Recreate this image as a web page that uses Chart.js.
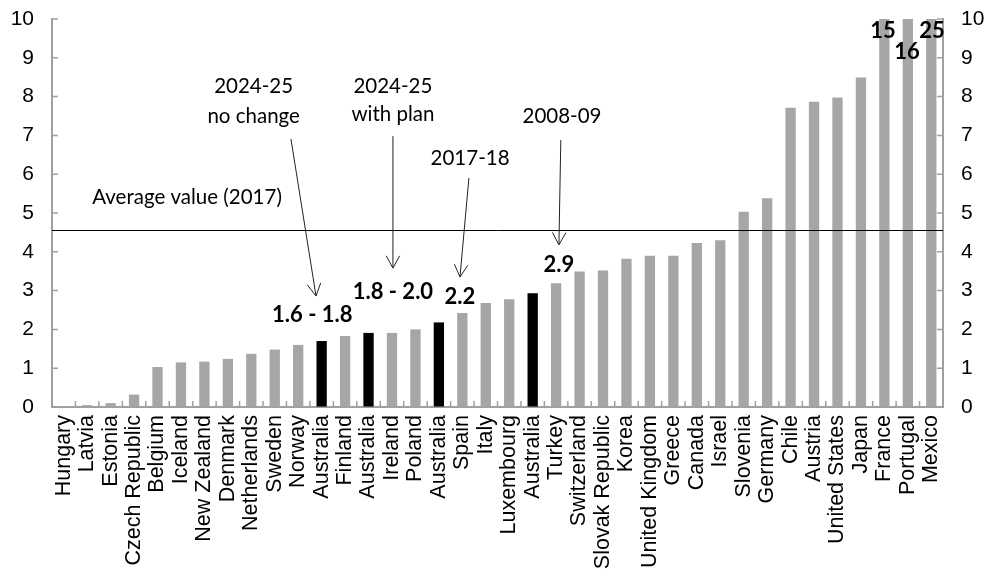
<!DOCTYPE html>
<html>
<head>
<meta charset="utf-8">
<script src="https://cdn.jsdelivr.net/npm/chart.js@4"></script>
<style>
  html, body { margin: 0; padding: 0; background: #fff; }
  #wrap { width: 989px; height: 581px; }
</style>
</head>
<body>
<div id="wrap"><canvas id="myChart" width="989" height="581"></canvas></div>
<script>
// countries, sorted by value
const countries = ['Hungary', 'Latvia', 'Estonia', 'Czech Republic', 'Belgium', 'Iceland', 'New Zealand',
  'Denmark', 'Netherlands', 'Sweden', 'Norway', 'Australia', 'Finland', 'Australia', 'Ireland', 'Poland',
  'Australia', 'Spain', 'Italy', 'Luxembourg', 'Australia', 'Turkey', 'Switzerland', 'Slovak Republic',
  'Korea', 'United Kingdom', 'Greece', 'Canada', 'Israel', 'Slovenia', 'Germany', 'Chile', 'Austria',
  'United States', 'Japan', 'France', 'Portugal', 'Mexico'];
const values = [0.0, 0.05, 0.1, 0.32, 1.03, 1.15, 1.17, 1.24, 1.37, 1.48, 1.6, 1.7, 1.83, 1.91, 1.91, 2.0,
  2.18, 2.42, 2.68, 2.78, 2.93, 3.19, 3.49, 3.52, 3.82, 3.9, 3.9, 4.23, 4.3, 5.03, 5.38, 7.71, 7.87,
  7.98, 8.49, 15, 16, 25];
const highlighted = [11, 13, 16, 20]; // the Australia bars
const averageValue = 4.55;
const yTicks = [0, 1, 2, 3, 4, 5, 6, 7, 8, 9, 10];

// annotation texts, placed in data units (category index, value)
const notes = [
  { text: 'Average value (2017)', x: 5.26, y: 5.41, bold: false },
  { text: '2024-25', x: 8.1, y: 8.27, bold: false },
  { text: 'no change', x: 8.1, y: 7.5, bold: false },
  { text: '2024-25', x: 14.04, y: 8.27, bold: false },
  { text: 'with plan', x: 14.04, y: 7.55, bold: false },
  { text: '2017-18', x: 17.33, y: 6.42, bold: false },
  { text: '2008-09', x: 21.25, y: 7.5, bold: false },
  { text: '1.6 - 1.8', x: 10.6, y: 2.37, bold: true },
  { text: '1.8 - 2.0', x: 14.04, y: 2.96, bold: true },
  { text: '2.2', x: 16.9, y: 2.84, bold: true },
  { text: '2.9', x: 21.12, y: 3.66, bold: true },
  { text: '15', x: 34.94, y: 9.69, bold: true },
  { text: '16', x: 35.96, y: 9.15, bold: true },
  { text: '25', x: 37.03, y: 9.69, bold: true }
];
const arrows = [
  { x1: 9.69, y1: 6.91, x2: 10.76, y2: 2.86 },
  { x1: 14.04, y1: 6.98, x2: 14.04, y2: 3.58 },
  { x1: 17.28, y1: 5.9, x2: 16.9, y2: 3.35 },
  { x1: 21.2, y1: 6.88, x2: 21.12, y2: 4.18 }
];

const axisGrey = '#a0a0a0';

const annotate = {
  id: 'annotate',
  afterDatasetsDraw(chart) {
    const ctx = chart.ctx;
    const xs = chart.scales.x;
    const ys = chart.scales.y;
    const area = chart.chartArea;
    const step = (area.right - area.left) / countries.length;

    ctx.save();
    // inward tick marks
    ctx.strokeStyle = axisGrey;
    ctx.lineWidth = 1.5;
    ctx.beginPath();
    for (let i = 0; i <= countries.length; i++) {
      const px = area.left + i * step;
      ctx.moveTo(px, area.bottom);
      ctx.lineTo(px, area.bottom - 6);
    }
    yTicks.forEach(v => {
      const py = ys.getPixelForValue(v);
      ctx.moveTo(area.left, py);
      ctx.lineTo(area.left + 6, py);
      ctx.moveTo(area.right, py);
      ctx.lineTo(area.right - 6, py);
    });
    ctx.stroke();

    // average line
    const ay = Math.round(ys.getPixelForValue(averageValue)) + 0.5;
    ctx.strokeStyle = '#000';
    ctx.lineWidth = 1;
    ctx.beginPath();
    ctx.moveTo(area.left, ay);
    ctx.lineTo(area.right, ay);
    ctx.stroke();

    // arrows
    ctx.strokeStyle = '#222';
    ctx.lineWidth = 1;
    arrows.forEach(a => {
      const x1 = xs.getPixelForValue(a.x1), y1 = ys.getPixelForValue(a.y1);
      const x2 = xs.getPixelForValue(a.x2), y2 = ys.getPixelForValue(a.y2);
      const ang = Math.atan2(y2 - y1, x2 - x1);
      const head = 14;
      ctx.beginPath();
      ctx.moveTo(x1, y1);
      ctx.lineTo(x2, y2);
      ctx.moveTo(x2 - head * Math.cos(ang - 0.5), y2 - head * Math.sin(ang - 0.5));
      ctx.lineTo(x2, y2);
      ctx.lineTo(x2 - head * Math.cos(ang + 0.5), y2 - head * Math.sin(ang + 0.5));
      ctx.stroke();
    });

    // texts
    ctx.fillStyle = '#000';
    ctx.textAlign = 'center';
    ctx.textBaseline = 'middle';
    notes.forEach(n => {
      ctx.font = n.bold ? 'bold 22px Lato' : '20.5px Lato';
      ctx.fillText(n.text, xs.getPixelForValue(n.x), ys.getPixelForValue(n.y));
    });
    ctx.restore();
  }
};

new Chart('myChart', {
  type: 'bar',
  data: {
    labels: countries,
    datasets: [{
      data: values,
      backgroundColor: values.map((v, i) => highlighted.includes(i) ? '#000000' : '#a6a6a6'),
      categoryPercentage: 1,
      barPercentage: 0.44
    }]
  },
  options: {
    responsive: false,
    animation: false,
    layout: { padding: { top: 19, left: 0, right: 0, bottom: 0 } },
    plugins: { legend: { display: false }, tooltip: { enabled: false } },
    scales: {
      x: {
        grid: { display: true, drawOnChartArea: false, drawTicks: false },
        border: { color: axisGrey, width: 2 },
        ticks: {
          autoSkip: false, minRotation: 90, maxRotation: 90, padding: 8,
          color: '#000', font: { family: 'Liberation Sans', size: 21.5 }
        },
        afterFit(s) { s.height = 174; s.paddingLeft = 0; s.paddingRight = 0; }
      },
      y: {
        position: 'left', min: 0, max: 10,
        grid: { display: true, drawOnChartArea: false, drawTicks: false },
        border: { color: axisGrey, width: 2 },
        ticks: { stepSize: 1, padding: 18, color: '#000', font: { family: 'Liberation Sans', size: 21 } },
        afterFit(s) { s.width = 52; s.paddingTop = 0; s.paddingBottom = 0; }
      },
      y2: {
        position: 'right', min: 0, max: 10,
        grid: { display: true, drawOnChartArea: false, drawTicks: false },
        border: { color: axisGrey, width: 2 },
        ticks: { stepSize: 1, padding: 18, color: '#000', font: { family: 'Liberation Sans', size: 21 } },
        afterFit(s) { s.width = 46; s.paddingTop = 0; s.paddingBottom = 0; }
      }
    }
  },
  plugins: [annotate]
});
</script>
</body>
</html>
